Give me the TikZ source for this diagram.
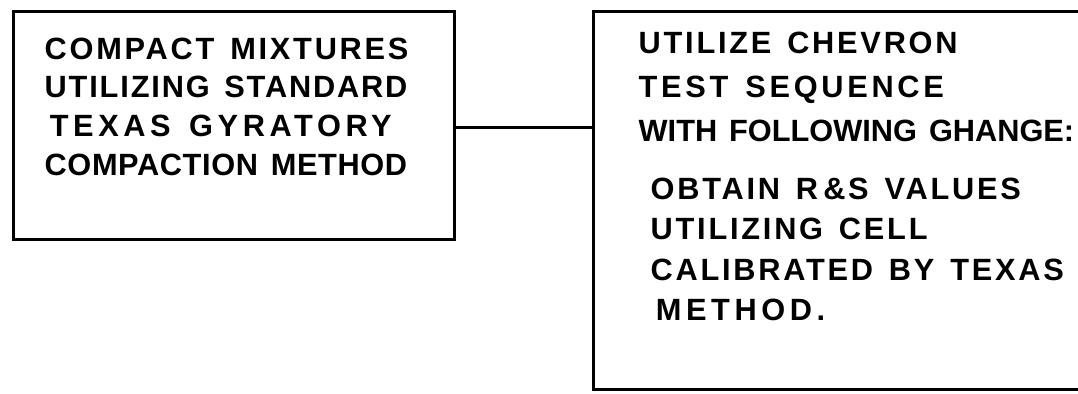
\documentclass[tikz,border=0pt]{standalone}
\usepackage{fontspec}
\setmainfont{Liberation Sans}
\newfontfamily\letterfont[LetterSpace=9, WordSpace=1.4]{Liberation Sans}
\newcommand{\spaced}[2]{{\addfontfeatures{LetterSpace=#1}#2}}
\usetikzlibrary{positioning}

\begin{document}
\begin{tikzpicture}[x=0.02cm, y=-0.02cm, thick,
    box/.style={draw, line width=1.7pt, inner sep=0pt},
    txt/.style={inner sep=0pt, align=left, anchor=north west,
        font=\letterfont\bfseries\fontsize{17.5}{22}\selectfont}]
    \useasboundingbox (0,0) rectangle (1078,393);
    \clip (0,0) rectangle (1078,393);

    % Boxes
    \node[box, anchor=north west, minimum width=8.82cm, minimum height=4.56cm] (lbox) at (12, 10) {};
    \node[box, anchor=north west, minimum width=10cm, minimum height=7.56cm] (rbox) at (592, 10) {};

    % Texts
    \node[txt] (ltext) at (44, 37) {COMPACT MIXTURES\\\spaced{6}{UTILIZING STANDARD}\\\,\spaced{15}{TEXAS GYRATORY}\\\spaced{2}{COMPACTION METHOD}};
    \node[txt, font=\letterfont\bfseries\fontsize{17.5}{25}\selectfont] (rtext1) at (638, 31)
        {UTILIZE CHEVRON\\\spaced{12}{TEST SEQUENCE}\\\spaced{0}{WITH FOLLOWING GHANGE:}};
    \node[txt, font=\letterfont\bfseries\fontsize{17.5}{23}\selectfont] (rtext2) at (650, 177)
        {OBTAIN R\,\&S VALUES\\UTILIZING CELL\\CALIBRATED BY TEXAS\\\,\spaced{15}{METHOD.}};

    % Connection
    \draw[line width=1.7pt] (lbox.east |- 0,127) -- (rbox.west |- 0,127);
\end{tikzpicture}
\end{document}
